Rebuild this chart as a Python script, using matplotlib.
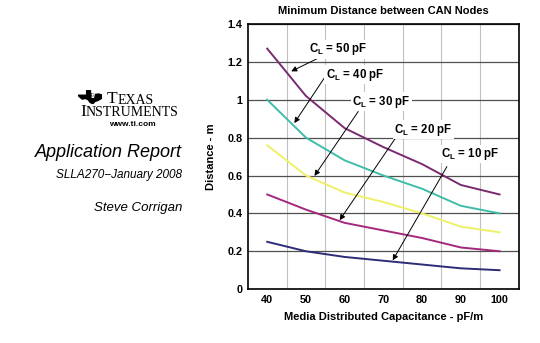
import matplotlib.pyplot as plt
from matplotlib.patches import Polygon
from matplotlib.text import Annotation

plt.rcParams['font.family'] = ['Liberation Sans', 'DejaVu Sans']

# media capacitance (pF/m)
cap = [40, 50, 60, 70, 80, 90, 100]

# minimum node spacing (m) for each node capacitance
dist_50 = [1.27, 1.02, 0.85, 0.75, 0.66, 0.55, 0.50]
dist_40 = [1.00, 0.80, 0.68, 0.60, 0.53, 0.44, 0.40]
dist_30 = [0.76, 0.60, 0.51, 0.46, 0.40, 0.33, 0.30]
dist_20 = [0.50, 0.42, 0.35, 0.31, 0.27, 0.22, 0.20]
dist_10 = [0.25, 0.20, 0.17, 0.15, 0.13, 0.11, 0.10]

labels = ['50', '40', '30', '20', '10']
colors = ['#7a2a6e', '#3dbdaa', '#eef068', '#a3287c', '#2c2c78']

fig = plt.figure(figsize=(5.40, 3.43), dpi=100)
ax = fig.add_axes([0.459, 0.157, 0.502, 0.773])

for d, c in zip([dist_50, dist_40, dist_30, dist_20, dist_10], colors):
    ax.plot(cap, d, color=c, lw=1.4, zorder=3)

ax.set_xlim(35, 105)
ax.set_ylim(0, 1.4)
ax.set_xticks(cap)
ax.set_xticks([45, 55, 65, 75, 85, 95], minor=True)
ax.set_yticks([0, 0.2, 0.4, 0.6, 0.8, 1.0, 1.2, 1.4])
ax.set_yticklabels(['0', '0.2', '0.4', '0.6', '0.8', '1', '1.2', '1.4'])
ax.tick_params(which='both', length=0, labelsize=7.8, pad=4)
for t in ax.get_xticklabels() + ax.get_yticklabels():
    t.set_fontweight('bold')
ax.grid(axis='x', which='minor', color='#c0c0c0', lw=0.8)
ax.grid(axis='y', which='major', color='#505050', lw=0.9)
for s in ax.spines.values():
    s.set_linewidth(1.2)

ax.set_title('Minimum Distance between CAN Nodes', fontsize=8, fontweight='bold', pad=7)
ax.set_xlabel('Media Distributed Capacitance - pF/m', fontsize=8, fontweight='bold', labelpad=5)
ax.set_ylabel('Distance - m', fontsize=8, fontweight='bold', labelpad=8)

# curve labels with leader arrows: (text pos, arrow start, arrow tip)
notes = [((58.2, 1.266), (53.5, 1.223), (46.2, 1.15)),
         ((62.6, 1.133), (54.8, 1.117), (47.0, 0.877)),
         ((69.5, 0.990), (63.5, 0.938), (52.2, 0.598)),
         ((80.3, 0.841), (73.4, 0.806), (58.7, 0.364)),
         ((92.5, 0.714), (86.4, 0.647), (72.4, 0.152))]
for lab, (txt, start, tip) in zip(labels, notes):
    ax.annotate('', xy=tip, xytext=start, zorder=4,
                arrowprops=dict(arrowstyle='-|>', color='black', lw=0.7,
                                mutation_scale=8, shrinkA=0, shrinkB=0))
    ax.text(txt[0], txt[1], 'C$_\\mathregular{L}$ = ' + lab + ' pF', fontsize=8.3,
            fontweight='bold', ha='center', va='center', zorder=5,
            bbox=dict(facecolor='white', edgecolor='none', pad=1))

# Texas Instruments logo and report header
logo = fig.add_axes([78 / 540, 1 - 104 / 343, 24 / 540, 14 / 343])
logo.set_xlim(0, 1)
logo.set_ylim(-0.1, 1.05)
logo.axis('off')
logo.add_patch(Polygon([(0.0, 0.62), (0.36, 0.62), (0.36, 1.0), (0.52, 1.0),
                        (0.52, 0.74), (0.70, 0.68), (0.86, 0.72), (1.0, 0.64),
                        (0.98, 0.36), (0.84, 0.2), (0.70, 0.1), (0.62, -0.08),
                        (0.50, 0.04), (0.42, 0.26), (0.30, 0.36), (0.18, 0.30),
                        (0.08, 0.46)], closed=True, color='black'))
logo.text(0.62, 0.55, 'ti', color='white', fontsize=6, fontweight='bold',
          fontstyle='italic', ha='center', va='center')


def small_caps(x, y, word):
    # first letter full size, the rest as reduced capitals beside it
    head = fig.text(x, y, word[0], family='Liberation Serif', fontsize=12.5,
                    ha='left', va='baseline')
    fig.add_artist(Annotation(word[1:], xy=(1, 0), xycoords=head,
                              va='bottom', ha='left',
                              family='Liberation Serif', fontsize=10))


small_caps(107 / 540, 1 - 103 / 343, 'TEXAS')
small_caps(80 / 540, 1 - 115.5 / 343, 'INSTRUMENTS')
fig.text(132 / 540, 1 - 124 / 343, 'www.ti.com', fontsize=6, fontweight='bold',
         ha='center', va='center')
fig.text(182 / 540, 1 - 153 / 343, 'Application Report', fontsize=13,
         fontstyle='italic', ha='right', va='center')
fig.text(182 / 540, 1 - 175 / 343, 'SLLA270\u2212January 2008', fontsize=8.5,
         fontstyle='italic', ha='right', va='center')
fig.text(182 / 540, 1 - 208 / 343, 'Steve Corrigan', fontsize=9.5,
         fontstyle='italic', ha='right', va='center')

fig.savefig('out.png', dpi=100)
